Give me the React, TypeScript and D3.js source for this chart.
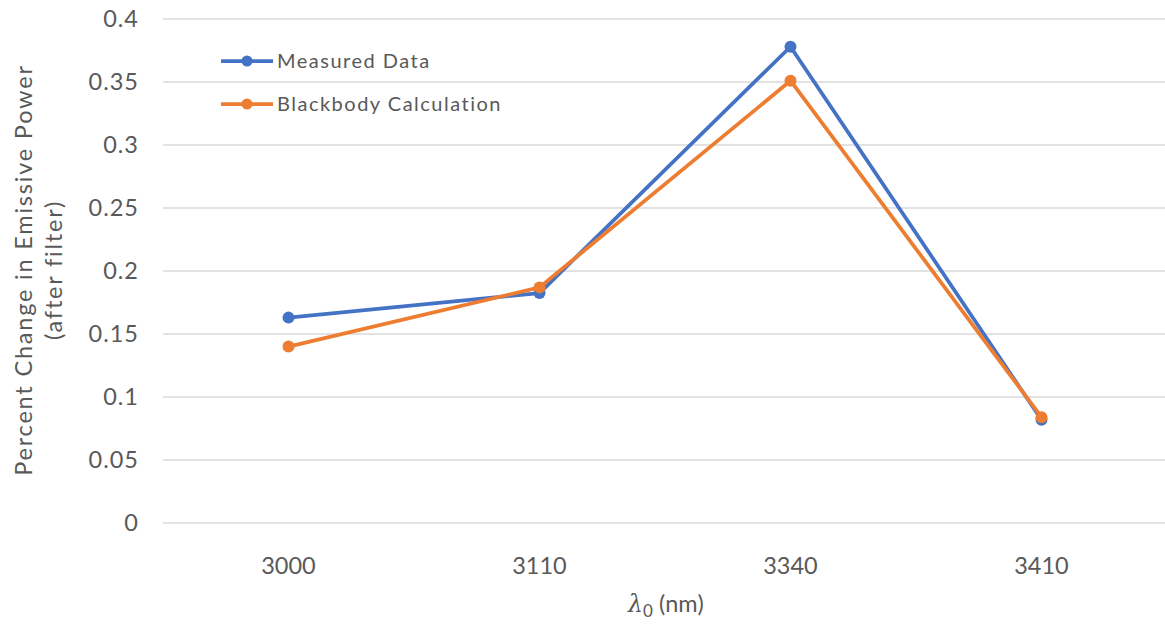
import React from "react";
import * as d3 from "d3";

const categories = ["3000", "3110", "3340", "3410"];
const measured = [0.163, 0.1825, 0.378, 0.082];
const blackbody = [0.140, 0.187, 0.351, 0.084];
const yTicks = [0, 0.05, 0.1, 0.15, 0.2, 0.25, 0.3, 0.35, 0.4];
const yTickLabels = ["0", "0.05", "0.1", "0.15", "0.2", "0.25", "0.3", "0.35", "0.4"];
const seriesNames = ["Measured Data", "Blackbody Calculation"];
const colors = ["#4472C4", "#ED7D31"];

const W = 1165, H = 624;
const left = 163, right = 1167, top = 19, bottom = 523;
const font = "Lato, 'Open Sans', sans-serif";

export default function App() {
  const x = d3.scaleBand<string>().domain(categories).range([left, right]);
  const y = d3.scaleLinear().domain([0, 0.4]).range([bottom, top]);
  const line = d3.line<number>()
    .x((_, i) => (x(categories[i]) as number) + x.bandwidth() / 2)
    .y((d) => y(d));
  const series = [measured, blackbody];
  return (
    <svg width={W} height={H} style={{ position: "absolute", left: 0, top: 0, background: "#fff" }}>
      {yTicks.map((t, i) => (
        <g key={i}>
          <line x1={left} x2={right} y1={y(t)} y2={y(t)} stroke="#d9d9d9" strokeWidth={1.5} />
          <text x={139} y={y(t)} dy="0.35em" textAnchor="end" fontFamily={font} fontSize={23.5} letterSpacing={1} fill="#595959">
            {yTickLabels[i]}
          </text>
        </g>
      ))}
      {categories.map((c) => (
        <text key={c} x={(x(c) as number) + x.bandwidth() / 2} y={566} dy="0.35em" textAnchor="middle"
          fontFamily={font} fontSize={23.5} fill="#595959">{c}</text>
      ))}
      <text transform="translate(24,270) rotate(-90)" textAnchor="middle" dy="0.35em" fontFamily={font} fontSize={23.5} letterSpacing={1.8} fill="#595959">
        Percent Change in Emissive Power
      </text>
      <text transform="translate(54,270) rotate(-90)" textAnchor="middle" dy="0.35em" fontFamily={font} fontSize={23.5} letterSpacing={1.8} fill="#595959">
        (after filter)
      </text>
      <text x={666} y={604} dy="0.35em" textAnchor="middle" fontFamily={font} fontSize={23.5} fill="#595959">
        <tspan fontStyle="italic" fontFamily="'DejaVu Serif', serif">λ</tspan>
        <tspan fontSize={17} dy="5">0</tspan>
        <tspan dy="-5"> (nm)</tspan>
      </text>
      {series.map((s, si) => (
        <g key={si}>
          <path d={line(s) as string} fill="none" stroke={colors[si]} strokeWidth={3.75} strokeLinejoin="round" />
          {s.map((v, i) => (
            <circle key={i} cx={(x(categories[i]) as number) + x.bandwidth() / 2} cy={y(v)} r={6} fill={colors[si]} />
          ))}
        </g>
      ))}
      {seriesNames.map((n, i) => (
        <g key={n} transform={`translate(0,${61 + i * 43})`}>
          <line x1={221} x2={273} y1={0} y2={0} stroke={colors[i]} strokeWidth={3.75} />
          <circle cx={247} cy={0} r={5.5} fill={colors[i]} />
          <text x={277} y={0} dy="0.35em" fontFamily={font} fontSize={20} letterSpacing={1.5} fill="#595959">{n}</text>
        </g>
      ))}
    </svg>
  );
}
